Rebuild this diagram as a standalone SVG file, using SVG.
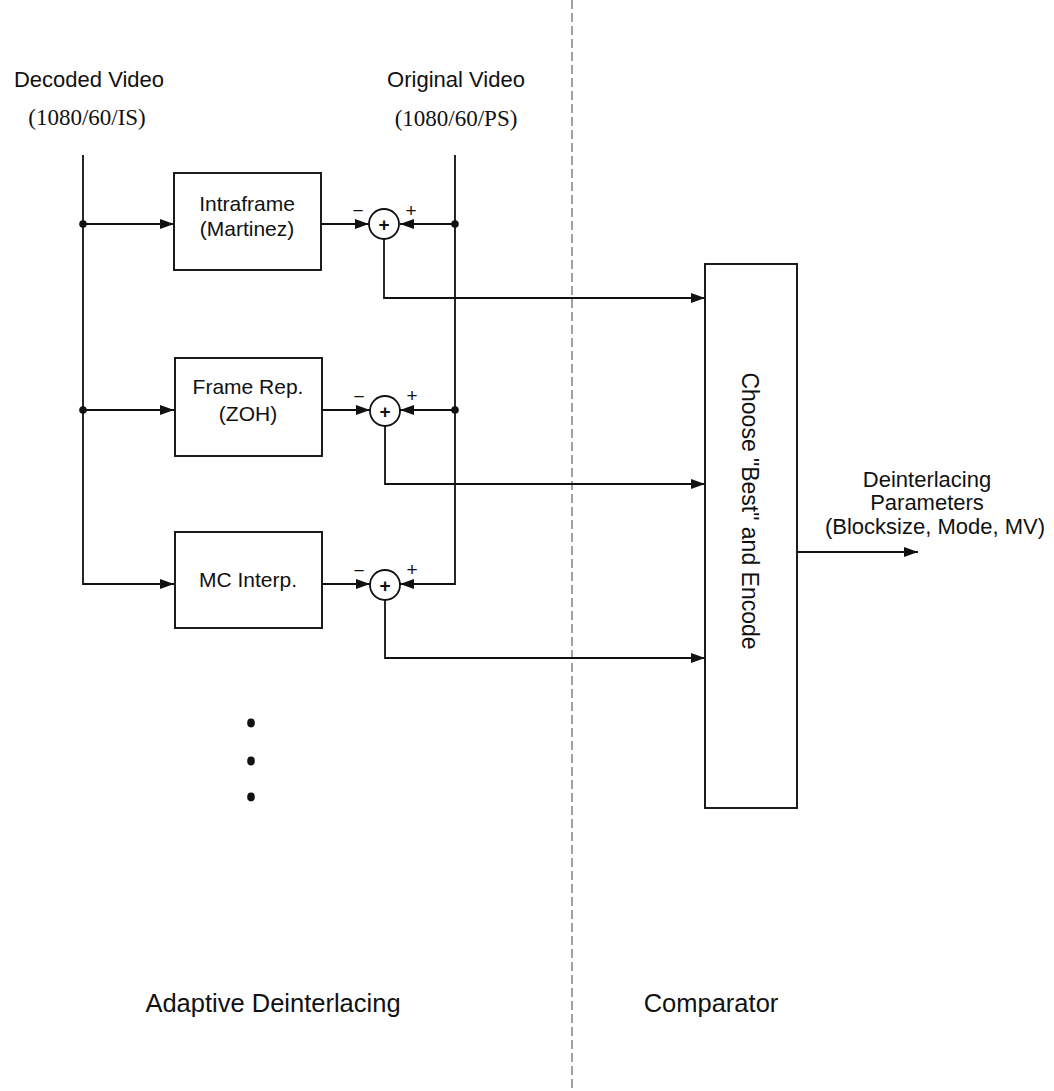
<svg xmlns="http://www.w3.org/2000/svg" width="1054" height="1091" viewBox="0 0 1054 1091">
  <style>
    .ln { fill: none; stroke: #111; stroke-width: 1.8; }
    .box { fill: #fff; stroke: #111; stroke-width: 1.9; }
    .sum { fill: #fff; stroke: #111; stroke-width: 1.8; }
    .sans { font-family: "Liberation Sans", Arial, Helvetica, sans-serif; fill: #111; }
    .serif { font-family: "Liberation Serif", "Times New Roman", serif; fill: #111; }
    .lbl { font-size: 22px; }
    .ser { font-size: 23px; }
    .blk { font-size: 21px; text-anchor: middle; }
    .sgn { font-size: 19px; text-anchor: middle; }
    .pls { font-size: 19px; font-weight: bold; text-anchor: middle; }
    .big { font-size: 25.5px; text-anchor: middle; }
    .dot { fill: #111; }
  </style>
  <defs>
    <marker id="arr" markerUnits="userSpaceOnUse" markerWidth="16" markerHeight="12" refX="14" refY="5" orient="auto">
      <path d="M0,0 L14,5 L0,10 Z" fill="#111"/>
    </marker>
  </defs>

  <!-- section divider -->
  <line x1="572" y1="0" x2="572" y2="1091" stroke="#555" stroke-width="1.1" stroke-dasharray="9 4"/>

  <!-- input labels -->
  <g id="in-decoded">
    <text class="sans lbl" x="89" y="87" text-anchor="middle">Decoded Video</text>
    <text class="serif ser" x="87" y="125" text-anchor="middle">(1080/60/IS)</text>
  </g>
  <g id="in-original">
    <text class="sans lbl" x="456" y="87" text-anchor="middle">Original Video</text>
    <text class="serif ser" x="456" y="126" text-anchor="middle">(1080/60/PS)</text>
  </g>

  <!-- connectors -->
  <g id="connectors">
    <!-- decoded video bus -->
    <polyline class="ln" points="83,155 83,584 174,584" marker-end="url(#arr)"/>
    <line class="ln" x1="83" y1="224" x2="174" y2="224" marker-end="url(#arr)"/>
    <line class="ln" x1="83" y1="410" x2="174" y2="410" marker-end="url(#arr)"/>
    <!-- original video bus -->
    <polyline class="ln" points="455,155 455,584 400,584" marker-end="url(#arr)"/>
    <line class="ln" x1="455" y1="224" x2="400" y2="224" marker-end="url(#arr)"/>
    <line class="ln" x1="455" y1="410" x2="400" y2="410" marker-end="url(#arr)"/>
    <!-- predictor outputs into summers -->
    <line class="ln" x1="321" y1="224" x2="369" y2="224" marker-end="url(#arr)"/>
    <line class="ln" x1="322" y1="410" x2="370" y2="410" marker-end="url(#arr)"/>
    <line class="ln" x1="322" y1="584" x2="370" y2="584" marker-end="url(#arr)"/>
    <!-- error signals to comparator -->
    <polyline class="ln" points="384,239 384,298 705,298" marker-end="url(#arr)"/>
    <polyline class="ln" points="385,425 385,484 705,484" marker-end="url(#arr)"/>
    <polyline class="ln" points="385,599 385,658 705,658" marker-end="url(#arr)"/>
    <!-- comparator output -->
    <line class="ln" x1="797" y1="552" x2="918" y2="552" marker-end="url(#arr)"/>
    <!-- junctions -->
    <circle class="dot" cx="83" cy="224" r="3.8"/>
    <circle class="dot" cx="83" cy="410" r="3.8"/>
    <circle class="dot" cx="455" cy="224" r="3.8"/>
    <circle class="dot" cx="455" cy="410" r="3.8"/>
  </g>

  <!-- predictors -->
  <g id="intraframe">
    <rect class="box" x="174" y="173" width="147" height="97"/>
    <text class="sans blk" x="247" y="211">Intraframe</text>
    <text class="sans blk" x="247" y="236">(Martinez)</text>
  </g>
  <g id="frame-rep">
    <rect class="box" x="175" y="358" width="147" height="98"/>
    <text class="sans blk" x="248" y="394">Frame Rep.</text>
    <text class="sans blk" x="248" y="421">(ZOH)</text>
  </g>
  <g id="mc-interp">
    <rect class="box" x="175" y="532" width="147" height="96"/>
    <text class="sans blk" x="248" y="587">MC Interp.</text>
  </g>

  <!-- summing junctions -->
  <g id="sum1">
    <circle class="sum" cx="384" cy="224" r="15"/>
    <text class="sans pls" x="384" y="231">+</text>
    <text class="sans sgn" x="358" y="217">−</text>
    <text class="sans sgn" x="411" y="217">+</text>
  </g>
  <g id="sum2">
    <circle class="sum" cx="385" cy="411" r="15"/>
    <text class="sans pls" x="385" y="418">+</text>
    <text class="sans sgn" x="359" y="403">−</text>
    <text class="sans sgn" x="412" y="402">+</text>
  </g>
  <g id="sum3">
    <circle class="sum" cx="385" cy="585" r="15"/>
    <text class="sans pls" x="385" y="592">+</text>
    <text class="sans sgn" x="359" y="577">−</text>
    <text class="sans sgn" x="412" y="576">+</text>
  </g>

  <!-- further branches -->
  <g id="ellipsis">
    <ellipse class="dot" cx="251" cy="723" rx="3.8" ry="4.4"/>
    <ellipse class="dot" cx="251" cy="761" rx="3.8" ry="4.4"/>
    <ellipse class="dot" cx="251" cy="797" rx="3.8" ry="4.4"/>
  </g>

  <!-- comparator -->
  <g id="chooser">
    <rect class="box" x="705" y="264" width="92" height="544"/>
    <text class="sans" font-size="23" text-anchor="middle" transform="translate(742,511) rotate(90)">Choose "Best" and Encode</text>
  </g>

  <g id="out-params">
    <text class="sans lbl" x="927" y="487" text-anchor="middle">Deinterlacing</text>
    <text class="sans lbl" x="927" y="510" text-anchor="middle">Parameters</text>
    <text class="sans lbl" x="935" y="534" text-anchor="middle">(Blocksize, Mode, MV)</text>
  </g>

  <!-- section titles -->
  <g id="titles">
    <text class="sans big" x="273" y="1012">Adaptive Deinterlacing</text>
    <text class="sans big" x="711" y="1012">Comparator</text>
  </g>
</svg>
